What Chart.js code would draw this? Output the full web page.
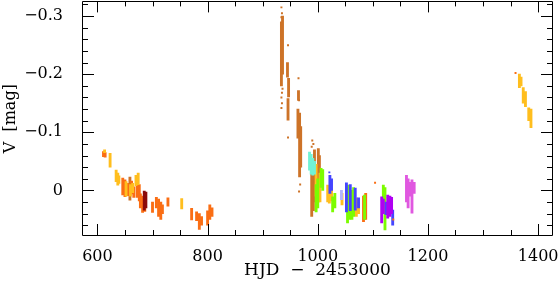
<!DOCTYPE html>
<html>
<head>
<meta charset="utf-8">
<script src="https://cdn.jsdelivr.net/npm/chart.js@4.4.1/dist/chart.umd.min.js"></script>
<style>
  html, body { margin: 0; padding: 0; background: #fff; }
</style>
</head>
<body>
<canvas id="lightcurve" width="560" height="281"></canvas>
<script>
// axis ticks
const xTicks = [600, 800, 1000, 1200, 1400];
const xMinorTicks = [600, 650, 700, 750, 800, 850, 900, 950, 1000, 1050, 1100, 1150, 1200, 1250, 1300, 1350, 1400];
const yTicks = [-0.3, -0.2, -0.1, 0];
const yMinorTicks = [-0.32, -0.3, -0.28, -0.26, -0.24, -0.22, -0.2, -0.18, -0.16, -0.14, -0.12, -0.1,
  -0.08, -0.06, -0.04, -0.02, 0, 0.02, 0.04, 0.06];

// nightly runs: [HJD-2453000, brightest V, faintest V]
const orangeRuns = [
  [611, -0.067, -0.058], [614, -0.065, -0.057],
  [646, -0.021, 0.008], [650, -0.018, 0.011], [655, -0.012, 0.009], [662, -0.016, 0.006], [666, -0.006, 0.012],
  [672, -0.02, 0.012], [676, -0.01, 0.018], [678, 0.006, 0.03], [682, 0.01, 0.038], [686, 0.02, 0.036],
  [700, 0.02, 0.038], [707, 0.012, 0.03], [711, 0.015, 0.045], [715, 0.02, 0.05], [718, 0.025, 0.04],
  [728, 0.013, 0.027], [771, 0.031, 0.051], [780, 0.037, 0.052], [785, 0.04, 0.067], [789, 0.045, 0.06],
  [800, 0.035, 0.06], [804, 0.025, 0.05], [808, 0.03, 0.045],
  [1083, 0.01, 0.054], [1087, 0.005, 0.05]
];
const yellowRuns = [
  [613, -0.07, -0.065], [623, -0.064, -0.04],
  [634, -0.035, -0.015], [637, -0.03, -0.009], [639, -0.025, -0.012],
  [652, -0.015, 0.01], [660, -0.01, 0.01], [664, -0.012, 0.004], [670, -0.026, -0.008], [674, -0.03, -0.01],
  [753, 0.014, 0.032],
  [997, -0.045, 0.01], [1004, -0.03, 0.02],
  [1018, -0.009, 0.02], [1021, -0.005, 0.022], [1025, 0.0, 0.018],
  [1044, 0.005, 0.025], [1070, 0.013, 0.045], [1074, 0.02, 0.04],
  [1366, -0.2, -0.177], [1369, -0.195, -0.18], [1373, -0.177, -0.15], [1377, -0.17, -0.144],
  [1383, -0.142, -0.12], [1387, -0.14, -0.108]
];
const brownRuns = [
  [659, -0.023, 0.017],
  [934, -0.29, -0.18], [936, -0.3, -0.2],
  [945, -0.22, -0.195], [947, -0.193, -0.161], [946, -0.158, -0.121],
  [965, -0.172, -0.155], [964, -0.14, -0.09], [967, -0.133, -0.023], [969, -0.11, -0.04],
  [989, -0.03, 0.045], [992, -0.035, 0.035], [994, -0.07, 0.02],
  [1001, -0.072, 0.02], [1003, -0.06, 0.01]
];
const darkRedRuns = [[685, 0.001, 0.034], [688, 0.003, 0.03]];
const cyanRuns = [[985, -0.066, -0.035], [988, -0.062, -0.028], [991, -0.055, -0.026], [994, -0.05, -0.028]];
const greenRuns = [
  [997, -0.01, 0.037], [1000, -0.02, 0.03], [1006, -0.038, -0.005], [1009, -0.036, 0.0],
  [1027, 0.011, 0.037], [1031, 0.005, 0.03],
  [1054, -0.009, 0.056], [1058, -0.005, 0.05], [1062, 0.0, 0.05], [1065, -0.005, 0.045],
  [1085, 0.008, 0.05], [1119, -0.009, 0.04], [1122, -0.005, 0.068]
];
const blueRuns = [
  [1022, -0.026, 0.005], [1025, -0.02, 0.0], [1052, -0.013, 0.037], [1059, -0.01, 0.035],
  [1068, -0.004, 0.034], [1074, 0.013, 0.03], [1124, 0.02, 0.042], [1136, 0.034, 0.06]
];
const lavenderRuns = [[1043, 0.0, 0.016]];
const purpleRuns = [[1116, 0.011, 0.056], [1119, 0.015, 0.04], [1127, 0.008, 0.048], [1131, 0.01, 0.045], [1134, 0.012, 0.04]];
const magentaRuns = [[1161, -0.026, 0.02], [1164, -0.02, 0.03], [1167, -0.014, 0.01], [1171, -0.018, 0.039], [1175, -0.014, 0.005]];

// single scattered measurements: [HJD-2453000, V]
const brownSingles = [
  [934, -0.315], [935, -0.305], [934, -0.298], [936, -0.175], [935, -0.168], [934, -0.16], [935, -0.15], [934, -0.142],
  [946, -0.25], [946, -0.091], [965, -0.193], [966, -0.155], [968, -0.01], [966, 0.002],
  [990, -0.086], [992, -0.08], [989, -0.075]
];
const orangeSingles = [[1359, -0.202], [1104, -0.013], [1137, 0.05]];
const blueSingles = [[1021, -0.031]];

function runs(list, color, order) {
  return {
    type: 'bar',
    data: list.map(r => ({ x: r[0], y: [r[1], r[2]] })),
    backgroundColor: color,
    borderWidth: 0,
    barThickness: 2.2,
    grouped: false,
    minBarLength: 1,
    order: order
  };
}
function singles(list, color, order) {
  return {
    type: 'scatter',
    data: list.map(p => ({ x: p[0], y: p[1] })),
    backgroundColor: color,
    borderWidth: 0,
    pointStyle: 'rect',
    pointRadius: 1.4,
    pointHoverRadius: 0,
    order: order
  };
}

const frameTicks = {
  id: 'frameTicks',
  afterDraw(chart) {
    const { ctx, chartArea: a, scales: { x, y } } = chart;
    ctx.save();
    ctx.strokeStyle = '#000';
    ctx.lineWidth = 1;
    ctx.beginPath();
    ctx.rect(Math.round(a.left) + 0.5, Math.round(a.top) + 0.5,
      Math.round(a.right - a.left) - 1, Math.round(a.bottom - a.top) - 1);
    xMinorTicks.forEach(v => {
      const px = Math.round(x.getPixelForValue(v)) + 0.5;
      const len = xTicks.includes(v) ? 12 : 6;
      ctx.moveTo(px, a.bottom); ctx.lineTo(px, a.bottom - len);
      ctx.moveTo(px, a.top); ctx.lineTo(px, a.top + len - 1);
    });
    yMinorTicks.forEach(v => {
      const py = Math.round(y.getPixelForValue(v)) + 0.5;
      const len = yTicks.some(t => Math.abs(t - v) < 1e-9) ? 12 : 6;
      ctx.moveTo(a.left, py); ctx.lineTo(a.left + len, py);
      ctx.moveTo(a.right, py); ctx.lineTo(a.right - len, py);
    });
    ctx.stroke();
    ctx.restore();
  }
};

const serif = 'DejaVu Serif';

new Chart(document.getElementById('lightcurve'), {
  type: 'bar',
  data: {
    datasets: [
      runs(orangeRuns, '#fa6e14', 9),
      runs(yellowRuns, '#ffbe1e', 8),
      runs(brownRuns, '#cd7328', 10),
      singles(brownSingles, '#cd7328', 10),
      runs(darkRedRuns, '#8b0a0a', 7),
      runs(cyanRuns, '#72f2d4', 6),
      runs(greenRuns, '#7cfc00', 5),
      runs(blueRuns, '#4545ff', 4),
      singles(blueSingles, '#4545ff', 4),
      runs(lavenderRuns, '#b4b4ff', 4),
      runs(purpleRuns, '#b000f2', 3),
      runs(magentaRuns, '#e058e0', 3),
      singles(orangeSingles, '#fa6e14', 2)
    ]
  },
  options: {
    responsive: false,
    devicePixelRatio: 1,
    animation: false,
    layout: { padding: { top: 1, right: 7, left: 0, bottom: 0 } },
    plugins: { legend: { display: false }, tooltip: { enabled: false } },
    scales: {
      x: {
        type: 'linear',
        min: 572,
        max: 1427,
        offset: false,
        grid: { display: false },
        border: { display: false },
        afterBuildTicks: s => { s.ticks = xTicks.map(v => ({ value: v })); },
        afterFit: s => { s.height = 45; s.paddingLeft = 0; s.paddingRight = 0; },
        ticks: {
          color: '#000',
          font: { family: serif, size: 16 },
          padding: 3,
          maxRotation: 0,
          callback: v => String(v)
        },
        title: {
          display: true,
          text: 'HJD  \u2212  2453000',
          color: '#000',
          font: { family: serif, size: 17 },
          padding: { top: 0, bottom: 0 }
        }
      },
      y: {
        type: 'linear',
        reverse: true,
        min: -0.3253,
        max: 0.0785,
        grid: { display: false },
        border: { display: false },
        afterBuildTicks: s => { s.ticks = yTicks.map(v => ({ value: v })); },
        afterFit: s => { s.width = 82; s.paddingTop = 0; s.paddingBottom = 0; },
        ticks: {
          color: '#000',
          font: { family: serif, size: 16 },
          padding: 11,
          callback: v => v === 0 ? '0' : '\u2212' + Math.abs(v).toFixed(1)
        },
        title: {
          display: true,
          text: 'V  [mag]',
          color: '#000',
          font: { family: serif, size: 16 },
          padding: { top: 1.5, bottom: 0 }
        }
      }
    }
  },
  plugins: [frameTicks]
});
</script>
</body>
</html>
